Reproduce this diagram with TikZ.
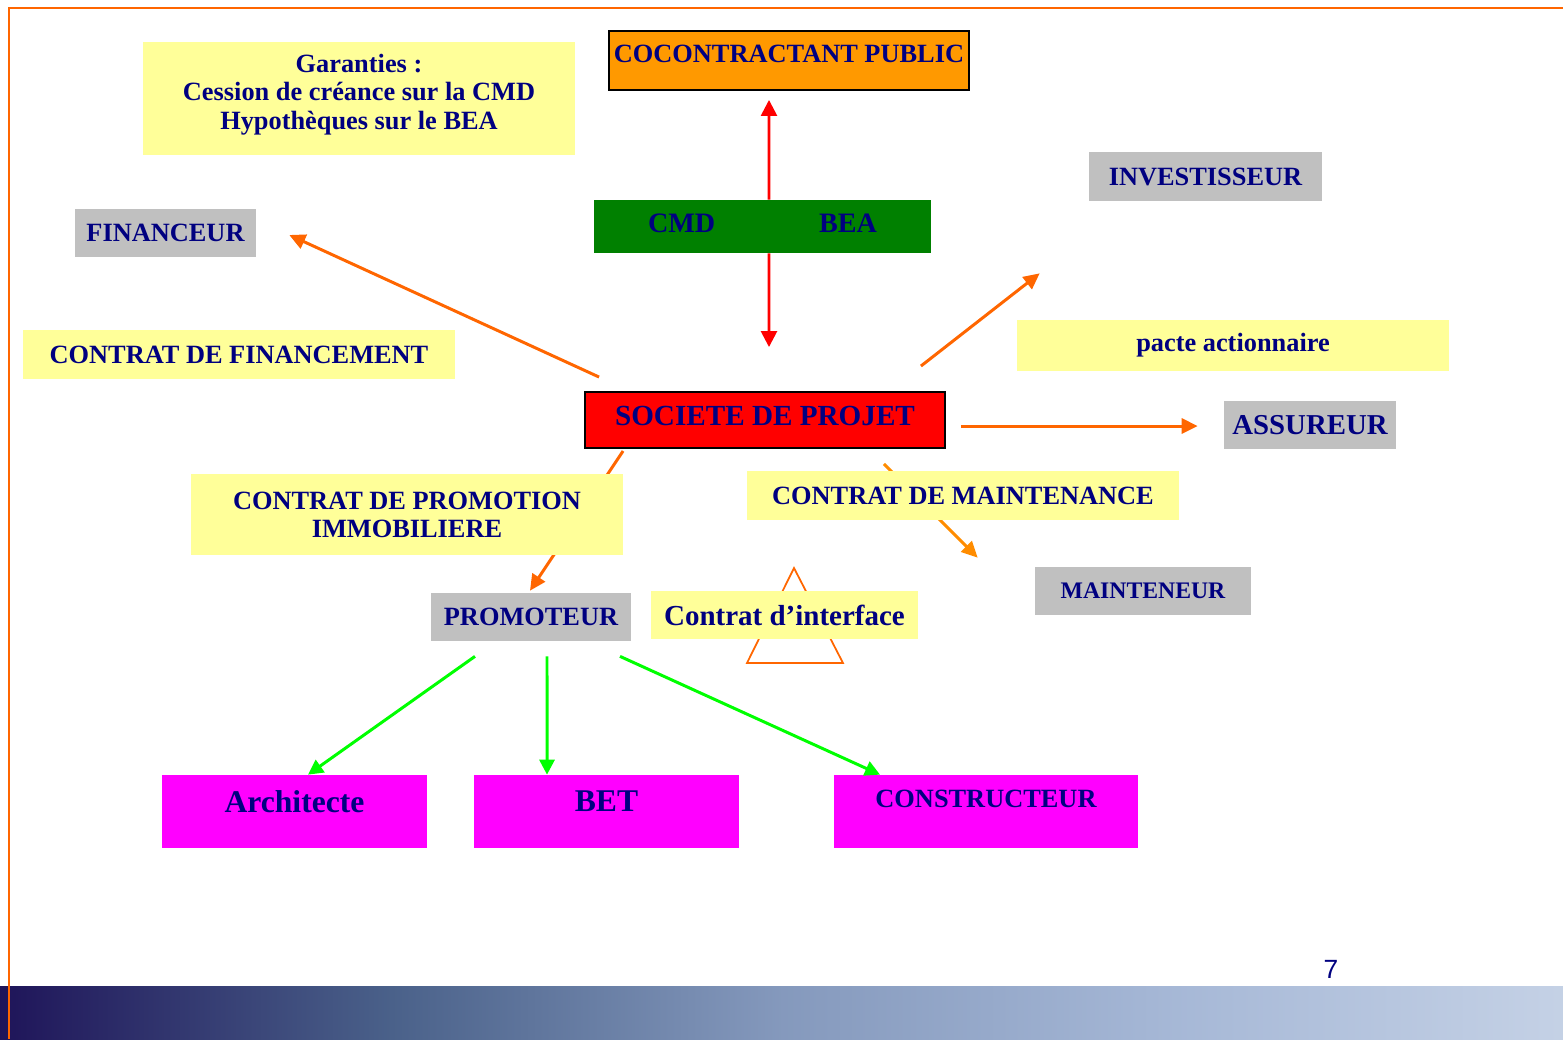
\documentclass[tikz,border=0pt]{standalone}
\usepackage{fontspec}
\setmainfont{Liberation Serif}
\newfontfamily\pagenumfont{Liberation Sans}
\usetikzlibrary{arrows.meta}
\definecolor{navytext}{RGB}{0,0,128}
\definecolor{paleyellow}{RGB}{255,255,153}
\definecolor{boxgray}{RGB}{192,192,192}
\definecolor{cocoorange}{RGB}{255,153,0}
\definecolor{linkorange}{RGB}{255,102,0}
\definecolor{maintorange}{RGB}{255,140,0}
\definecolor{darkgreen}{RGB}{0,128,0}
\definecolor{brightgreen}{RGB}{0,255,0}
\definecolor{brightred}{RGB}{255,0,0}
\definecolor{pinkfill}{RGB}{255,0,255}
\pgfdeclarehorizontalshading{bandshade}{100bp}{rgb(0bp)=(0.12,0.08,0.35); rgb(25bp)=(0.12,0.08,0.35); rgb(37.5bp)=(0.29,0.38,0.54); rgb(50bp)=(0.52,0.60,0.74); rgb(62.5bp)=(0.65,0.72,0.84); rgb(75bp)=(0.77,0.82,0.90); rgb(100bp)=(0.77,0.82,0.90)}
\begin{document}
\begin{tikzpicture}[x=0.02cm, y=-0.02cm,
    box/.style={inner sep=0pt, align=center, text=navytext, font=\bfseries\fontsize{15}{16.3}\selectfont},
    yellowbox/.style={box, fill=paleyellow},
    graybox/.style={box, fill=boxgray},
    pinkbox/.style={box, fill=pinkfill, minimum width=5.3cm, minimum height=1.46cm, font=\bfseries\fontsize{18}{20}\selectfont, text depth=0.4cm},
    linkarrow/.style={draw=linkorange, line width=1.7pt, -{Triangle[length=0.32cm, width=0.3cm]}},
    redarrow/.style={draw=brightred, line width=1.5pt, -{Triangle[length=0.32cm, width=0.32cm]}},
    greenarrow/.style={draw=brightgreen, line width=1.7pt, -{Triangle[length=0.3cm, width=0.3cm]}}
]
    \useasboundingbox (0,0) rectangle (1563,1039);

    % page frame and bottom band
    \shade[shading=bandshade] (0,986) rectangle (1563,1039);
    \draw[linkorange, line width=1.1pt] (1563,8) -- (9,8) -- (9,1039);
    \node[font=\pagenumfont\fontsize{15}{18}\selectfont, text=navytext] at (1331,969) (pagenum) {7};

    % interface triangle
    \draw[linkorange, line width=1pt] (794,568) -- (843,663) -- (747,663) -- cycle;

    \node[yellowbox, minimum width=8.64cm, minimum height=2.26cm] at (359,98.5) (garanties) {Garanties~:\\Cession de créance sur la CMD\\Hypothèques sur le BEA\\[-0.3cm]};
    \node[box, fill=cocoorange, draw=black, line width=1.1pt, minimum width=7.2cm, minimum height=1.18cm, text depth=0.26cm] at (789,60.5) (cocon) {COCONTRACTANT PUBLIC};
    \node[box, fill=darkgreen, minimum width=6.74cm, minimum height=1.06cm, text depth=0.12cm, font=\bfseries\fontsize{16}{18}\selectfont] at (762.5,226.5) (cmdbea) {CMD\hspace{2.08cm}BEA};
    \node[graybox, minimum width=4.66cm, minimum height=0.98cm] at (1205.5,176.5) (invest) {INVESTISSEUR};
    \node[graybox, minimum width=3.62cm, minimum height=0.96cm] at (165.5,233) (financeur) {FINANCEUR};
    \node[yellowbox, minimum width=8.64cm, minimum height=0.98cm] at (239,354.5) (cfin) {CONTRAT DE FINANCEMENT};
    \node[yellowbox, minimum width=8.64cm, minimum height=1.02cm] at (1233,345.5) (pacte) {pacte actionnaire};
    \node[box, fill=brightred, draw=black, line width=1.1pt, minimum width=7.2cm, minimum height=1.12cm, text depth=0.18cm, font=\bfseries\fontsize{16.6}{18}\selectfont] at (765,420) (societe) {SOCIETE DE PROJET};
    \node[graybox, minimum width=3.44cm, minimum height=0.96cm, font=\bfseries\fontsize{16.4}{18}\selectfont] at (1310,425) (assureur) {ASSUREUR};
    \node[graybox, minimum width=4.32cm, minimum height=0.96cm, font=\bfseries\fontsize{13.5}{15}\selectfont] at (1143,591) (mainteneur) {MAINTENEUR};
    \node[graybox, minimum width=4cm, minimum height=0.96cm] at (531,617) (promoteur) {PROMOTEUR};

    \draw[redarrow] ([xshift=0.13cm]cmdbea.north) -- ([shift={(-20,9)}]cocon.south);
    \draw[redarrow] ([xshift=0.13cm]cmdbea.south) -- ([shift={(4,-44)}]societe.north);
    \draw[linkarrow] ([shift={(15,-14)}]societe.north west) -- ([shift={(33,2)}]financeur.east);
    \draw[linkarrow] ([shift={(-25,-25)}]societe.north east) -- ([shift={(-49,72)}]invest.south west);
    \draw[linkarrow] ([shift={(15,6)}]societe.east) -- ([shift={(-26,1)}]assureur.west);
    \draw[linkarrow] ([shift={(39,2)}]societe.south west) -- ([shift={(-1,-2)}]promoteur.north);
    \draw[linkarrow, draw=maintorange] ([shift={(-62,15)}]societe.south east) -- ([shift={(-57,-9)}]mainteneur.north west);

    \node[yellowbox, minimum width=8.64cm, minimum height=1.62cm, font=\bfseries\fontsize{15}{16}\selectfont] at (407,514.5) (cpromo) {CONTRAT DE PROMOTION\\IMMOBILIERE};
    \node[yellowbox, minimum width=8.64cm, minimum height=0.98cm] at (963,495.5) (cmaint) {CONTRAT DE MAINTENANCE};
    \node[yellowbox, minimum width=5.34cm, minimum height=0.96cm, font=\bfseries\fontsize{16.5}{18}\selectfont] at (784.5,615) (cinterf) {Contrat d’interface};

    \node[pinkbox] at (294.5,811.5) (archi) {Architecte};
    \node[pinkbox] at (606.5,811.5) (bet) {BET};
    \node[pinkbox, minimum width=6.08cm, font=\bfseries\fontsize{15}{16.5}\selectfont, text depth=0.52cm] at (986,811.5) (constr) {CONSTRUCTEUR};

    \draw[greenarrow] ([shift={(-56,15)}]promoteur.south) -- ([xshift=0.27cm]archi.north);
    \draw[greenarrow] ([shift={(16,15)}]promoteur.south) -- ([xshift=-1.19cm]bet.north);
    \draw[greenarrow] ([shift={(89,15)}]promoteur.south) -- ([xshift=-2.12cm]constr.north);
\end{tikzpicture}
\end{document}
